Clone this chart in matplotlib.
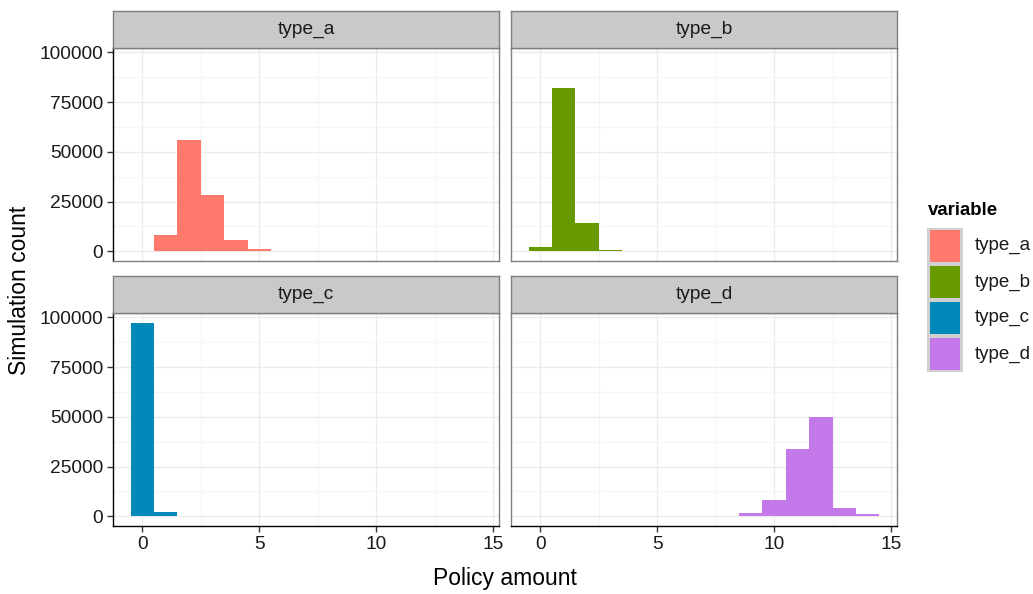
import matplotlib
matplotlib.use("Agg")
import matplotlib.pyplot as plt
from matplotlib.patches import Rectangle
import numpy as np

plt.rcParams['font.family'] = ['Liberation Sans', 'DejaVu Sans']

bin_centers = list(range(0, 15))
type_a = [300, 8300, 55800, 28100, 5500, 1100, 150, 0, 0, 0, 0, 0, 0, 0, 0]
type_b = [2000, 82200, 14000, 600, 100, 40, 0, 0, 0, 0, 0, 0, 0, 0, 0]
type_c = [97300, 2000, 300, 0, 0, 0, 0, 0, 0, 100, 0, 0, 0, 0, 0]
type_d = [0, 0, 0, 50, 0, 0, 30, 80, 400, 1800, 8200, 34000, 49900, 4400, 1000]
labels = ["type_a", "type_b", "type_c", "type_d"]
series = [type_a, type_b, type_c, type_d]
colors = ["#FF7A6D", "#689A00", "#0089B9", "#C479EB"]
x_ticks = [0, 5, 10, 15]
y_ticks = [0, 25000, 50000, 75000, 100000]

W, H = 1033, 594
fig = plt.figure(figsize=(W / 100, H / 100), dpi=100)

def box(x0, y0, x1, y1):
    return [x0 / W, 1 - y1 / H, (x1 - x0) / W, (y1 - y0) / H]

ymax = max(max(s) for s in series)
ylim = (-0.05 * ymax, ymax * 1.05)
xlim = (-1.25, 15.25)

cols = [(113, 499), (511, 897)]
rows = [(11, 48, 261), (276, 313, 526)]
border = "#7F7F7F"

for i, (lab, s, c) in enumerate(zip(labels, series, colors)):
    r, col = divmod(i, 2)
    x0, x1 = cols[col]
    st, py0, py1 = rows[r]
    ax = fig.add_axes(box(x0, py0, x1, py1))
    ax.bar(bin_centers, s, width=1.0, color=c, edgecolor='none', zorder=2)
    ax.set_xlim(*xlim)
    ax.set_ylim(*ylim)
    ax.set_xticks(x_ticks)
    ax.set_yticks(y_ticks)
    ax.set_xticks([2.5, 7.5, 12.5], minor=True)
    ax.set_yticks([12500, 37500, 62500, 87500], minor=True)
    ax.grid(which='major', color='#EBEBEB', lw=1.0, zorder=0)
    ax.grid(which='minor', color='#F5F5F5', lw=0.8, zorder=0)
    ax.set_axisbelow(True)
    ax.tick_params(which='minor', length=0)
    ax.tick_params(which='major', length=4, width=1, color='#333333',
                   labelsize=13.8, labelcolor='#1A1A1A', pad=3)
    for sp in ax.spines.values():
        sp.set_color(border)
        sp.set_linewidth(1.0)
    if col == 0:
        ax.spines['left'].set_color('black')
        ax.set_yticklabels([str(v) for v in y_ticks])
    else:
        ax.tick_params(axis='y', left=False, labelleft=False)
    if r == 1:
        ax.spines['bottom'].set_color('black')
        ax.set_xticklabels([str(v) for v in x_ticks])
    else:
        ax.tick_params(axis='x', bottom=False, labelbottom=False)
    # strip
    sax = fig.add_axes(box(x0, st, x1, py0))
    sax.set_xticks([]); sax.set_yticks([])
    sax.set_facecolor('#C9C9C9')
    for sp in sax.spines.values():
        sp.set_color(border)
        sp.set_linewidth(1.0)
    sax.text(0.5, 0.5, lab, ha='center', va='center', fontsize=13.8, color='#1A1A1A',
             transform=sax.transAxes)

fig.text(20 / W, 1 - 290 / H, "Simulation count", rotation=90, ha='center', va='center',
         fontsize=16.5, color='black')
fig.text(505 / W, 1 - 578 / H, "Policy amount", ha='center', va='center',
         fontsize=16.5, color='black')

# legend
fig.text(928 / W, 1 - 210 / H, "variable", ha='left', va='center', fontsize=13.4,
         fontweight='bold', color='black')
key_top = 228
kh = 36
for j, (lab, c) in enumerate(zip(labels, colors)):
    y0 = key_top + j * kh
    kax = fig.add_axes(box(927, y0, 963, y0 + kh))
    kax.set_xlim(0, 1); kax.set_ylim(0, 1)
    kax.axis('off')
    kax.add_patch(Rectangle((0, 0), 1, 1, facecolor='#D0D0D0', edgecolor='none'))
    kax.add_patch(Rectangle((0.07, 0.06), 0.86, 0.88, facecolor=c, edgecolor='none'))
    fig.text(975 / W, 1 - (y0 + kh / 2) / H, lab, ha='left', va='center', fontsize=13.5,
             color='#1A1A1A')

fig.savefig("out.png", dpi=100, facecolor='white')
